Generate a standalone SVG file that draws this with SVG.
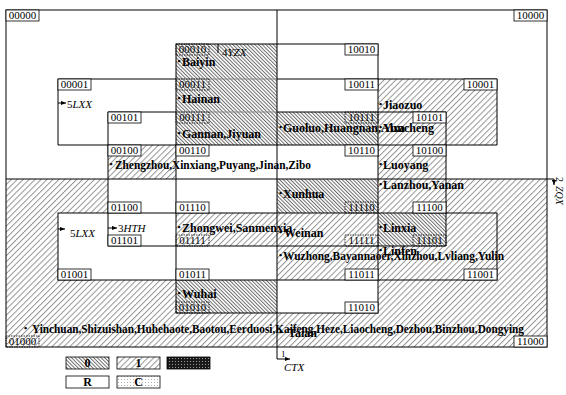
<svg xmlns="http://www.w3.org/2000/svg" width="566" height="395" viewBox="0 0 566 395">
<defs>
<pattern id="pd" width="2.6" height="2.6" patternUnits="userSpaceOnUse" patternTransform="rotate(-45)"><rect width="2.6" height="2.6" fill="#fff"/><line x1="0.5" y1="0" x2="0.5" y2="2.6" stroke="#666" stroke-width="0.95"/></pattern>
<pattern id="pl" width="4.2" height="4.2" patternUnits="userSpaceOnUse" patternTransform="rotate(45)"><rect width="4.2" height="4.2" fill="#fff"/><line x1="0.5" y1="0" x2="0.5" y2="4.2" stroke="#8a8a8a" stroke-width="0.9"/></pattern>
<pattern id="pk" width="3" height="3" patternUnits="userSpaceOnUse"><rect width="3" height="3" fill="#1a1a1a"/><rect x="1" y="1" width="1" height="1" fill="#9a9a9a"/></pattern>
<pattern id="pc" width="3" height="3" patternUnits="userSpaceOnUse"><rect width="3" height="3" fill="#fff"/><rect x="1" y="1" width="1" height="1" fill="#b0b0b0"/></pattern>
<marker id="ar" viewBox="0 0 6 6" refX="6" refY="3" markerWidth="5" markerHeight="5" orient="auto" markerUnits="userSpaceOnUse"><path d="M0,0.5 L6,3 L0,5.5 z" fill="#000"/></marker>
</defs>
<style>
.ln{fill:none;stroke:#000;stroke-width:1}
.gl{fill:none;stroke:#888;stroke-width:1}
.lb rect{fill:#fff;stroke:#000;stroke-width:0.8}
.lb.t rect{fill:none;stroke-dasharray:1.5 1}
.lb text{font-family:"Liberation Serif",serif;font-size:11px;text-anchor:middle}
.lb text.nm{font-family:"Liberation Serif",serif;font-size:12px;font-weight:bold;text-anchor:start}
.lb text.bu{font-family:"Liberation Serif",serif;font-size:9px;font-weight:bold;text-anchor:start}
.it{font-family:"Liberation Serif",serif;font-size:11px}
.i{font-style:italic}
.lg{font-family:"Liberation Serif",serif;font-size:12px;font-weight:bold;text-anchor:middle}
</style>
<rect width="566" height="395" fill="#fff"/>
<g id="fills" stroke="none">
<rect x="176" y="44" width="101" height="101" fill="url(#pd)"/>
<rect x="277" y="112" width="101" height="33" fill="url(#pd)"/>
<rect x="108" y="145" width="68" height="34" fill="url(#pl)"/>
<rect x="378" y="79" width="119" height="66" fill="url(#pl)"/>
<rect x="378" y="145" width="68" height="34" fill="url(#pl)"/>
<rect x="6" y="179" width="541" height="168" fill="url(#pl)"/>
<rect x="108" y="179" width="169" height="34" fill="#fff"/>
<rect x="58" y="213" width="118" height="67" fill="#fff"/>
<rect x="176" y="246" width="101" height="34" fill="#fff"/>
<rect x="277" y="280" width="101" height="33" fill="#fff"/>
<rect x="277" y="179" width="101" height="34" fill="url(#pd)"/>
<rect x="378" y="213" width="68" height="33" fill="url(#pd)"/>
<rect x="176" y="280" width="101" height="33" fill="url(#pd)"/>
</g>
<g id="regions">
<rect class="ln" x="6" y="10" width="541" height="337"/>
<rect class="ln" x="176" y="44" width="202" height="269"/>
<path class="ln" d="M176,79 H58 V145 H497 V79 H277"/>
<path class="gl" d="M176,79 H277"/>
<rect class="ln" x="58" y="213" width="439" height="67"/>
<path class="ln" d="M176,112 H108 V246 H446 V112 H277"/>
<path class="gl" d="M176,112 H277"/>
</g>
<g id="connectors">
<path class="ln" d="M277,10 V359 H290" marker-end="url(#ar)"/>
<path class="ln" d="M6,179 H554 V185" marker-end="url(#ar)"/>
<path class="ln" d="M218,44 V53"/>
<path class="ln" d="M58,103 H66" marker-end="url(#ar)"/>
<path class="ln" d="M58,229 H65" marker-end="url(#ar)"/>
<path class="ln" d="M108,228 H117" marker-end="url(#ar)"/>
</g>
<g id="axes">
<text class="it" x="222" y="56">4<tspan class="i">YZX</tspan></text>
<text class="it" x="67" y="107.5">5<tspan class="i">LXX</tspan></text>
<text class="it" x="70" y="237">5<tspan class="i">LXX</tspan></text>
<text class="it" x="118" y="232">3<tspan class="i">HTH</tspan></text>
<text class="it" x="281" y="357" style="font-size:9px">1</text>
<text class="it i" x="284" y="371">CTX</text>
<text class="it" transform="translate(556,177) rotate(90)" style="font-size:10px">2<tspan class="i" dx="4">ZQX</tspan></text>
</g>
<g id="n00000" class="lb"><rect x="6" y="10" width="33" height="11"/><text x="22.5" y="19">00000</text></g>
<g id="n00010" class="lb t"><rect x="176" y="44" width="33" height="11"/><text x="192.5" y="53">00010</text><text class="bu" x="177.5" y="64">•</text><text class="nm" x="182" y="66">Baiyin</text></g>
<g id="n00001" class="lb"><rect x="58" y="79" width="33" height="11"/><text x="74.5" y="88">00001</text></g>
<g id="n00011" class="lb t"><rect x="176" y="79" width="33" height="11"/><text x="192.5" y="88">00011</text><text class="bu" x="177.5" y="101">•</text><text class="nm" x="182" y="103">Hainan</text></g>
<g id="n00101" class="lb"><rect x="108" y="112" width="33" height="11"/><text x="124.5" y="121">00101</text></g>
<g id="n00111" class="lb t"><rect x="176" y="112" width="33" height="11"/><text x="192.5" y="121">00111</text><text class="bu" x="177.5" y="135.5">•</text><text class="nm" x="182" y="137.5">Gannan,Jiyuan</text></g>
<g id="n00100" class="lb"><rect x="108" y="145" width="33" height="11"/><text x="124.5" y="154">00100</text><text class="bu" x="109.5" y="166.5">•</text><text class="nm" x="115" y="168.5" textLength="196" lengthAdjust="spacingAndGlyphs">Zhengzhou,Xinxiang,Puyang,Jinan,Zibo</text></g>
<g id="n00110" class="lb"><rect x="176" y="145" width="33" height="11"/><text x="192.5" y="154">00110</text></g>
<g id="n10000" class="lb"><rect x="514" y="10" width="33" height="11"/><text x="530.5" y="19">10000</text></g>
<g id="n10010" class="lb"><rect x="345" y="44" width="33" height="11"/><text x="361.5" y="53">10010</text></g>
<g id="n10011" class="lb"><rect x="345" y="79" width="33" height="11"/><text x="361.5" y="88">10011</text></g>
<g id="n10001" class="lb"><rect x="464" y="79" width="33" height="11"/><text x="480.5" y="88">10001</text><text class="bu" x="379" y="107">•</text><text class="nm" x="383" y="109">Jiaozuo</text></g>
<g id="n10111" class="lb t"><rect x="345" y="112" width="33" height="11"/><text x="361.5" y="121">10111</text><text class="bu" x="279" y="130">•</text><text class="nm" x="283" y="132">Guoluo,Huangnan,Alxa</text></g>
<g id="n10101" class="lb"><rect x="413" y="112" width="33" height="11"/><text x="429.5" y="121">10101</text><text class="bu" x="379" y="130">•</text><text class="nm" x="383" y="132">Yuncheng</text></g>
<g id="n10110" class="lb"><rect x="345" y="145" width="33" height="11"/><text x="361.5" y="154">10110</text></g>
<g id="n10100" class="lb"><rect x="413" y="145" width="33" height="11"/><text x="429.5" y="154">10100</text><text class="bu" x="379" y="166.5">•</text><text class="nm" x="383" y="168.5">Luoyang</text></g>
<g id="n01100" class="lb"><rect x="108" y="202" width="33" height="11"/><text x="124.5" y="211">01100</text></g>
<g id="n01110" class="lb"><rect x="176" y="202" width="33" height="11"/><text x="192.5" y="211">01110</text></g>
<g id="n01101" class="lb"><rect x="108" y="235" width="33" height="11"/><text x="124.5" y="244">01101</text></g>
<g id="n01111" class="lb t"><rect x="176" y="235" width="33" height="11"/><text x="192.5" y="244">01111</text><text class="bu" x="177.5" y="230">•</text><text class="nm" x="182" y="232">Zhongwei,Sanmenxia</text></g>
<g id="n01001" class="lb"><rect x="58" y="269" width="33" height="11"/><text x="74.5" y="278">01001</text></g>
<g id="n01011" class="lb"><rect x="176" y="269" width="33" height="11"/><text x="192.5" y="278">01011</text></g>
<g id="n01010" class="lb t"><rect x="176" y="302" width="33" height="11"/><text x="192.5" y="311">01010</text><text class="bu" x="177.5" y="296">•</text><text class="nm" x="182" y="298">Wuhai</text></g>
<g id="n01000" class="lb t"><rect x="6" y="336" width="33" height="11"/><text x="22.5" y="345">01000</text><text class="bu" x="24" y="331">•</text><text class="nm" x="32" y="333" textLength="492" lengthAdjust="spacingAndGlyphs">Yinchuan,Shizuishan,Huhehaote,Baotou,Eerduosi,Kaifeng,Heze,Liaocheng,Dezhou,Binzhou,Dongying</text></g>
<g id="n11110" class="lb t"><rect x="345" y="202" width="33" height="11"/><text x="361.5" y="211">11110</text><text class="bu" x="279" y="196">•</text><text class="nm" x="283" y="198">Xunhua</text></g>
<g id="n11100" class="lb"><rect x="413" y="202" width="33" height="11"/><text x="429.5" y="211">11100</text><text class="bu" x="379" y="186.5">•</text><text class="nm" x="383" y="188.5">Lanzhou,Yanan</text></g>
<g id="n11111" class="lb t"><rect x="345" y="235" width="33" height="11"/><text x="361.5" y="244">11111</text><text class="bu" x="279" y="235">•</text><text class="nm" x="284" y="237">Weinan</text></g>
<g id="n11101" class="lb t"><rect x="413" y="235" width="33" height="11"/><text x="429.5" y="244">11101</text><text class="bu" x="379" y="230">•</text><text class="nm" x="383" y="232">Linxia</text></g>
<g id="n11011" class="lb"><rect x="345" y="269" width="33" height="11"/><text x="361.5" y="278">11011</text><text class="bu" x="279" y="258">•</text><text class="nm" x="283" y="260" textLength="221" lengthAdjust="spacingAndGlyphs">Wuzhong,Bayannaoer,Xinzhou,Lvliang,Yulin</text></g>
<g id="n11001" class="lb"><rect x="464" y="269" width="33" height="11"/><text x="480.5" y="278">11001</text><text class="bu" x="379" y="253">•</text><text class="nm" x="383" y="255">Linfen</text></g>
<g id="n11010" class="lb"><rect x="345" y="302" width="33" height="11"/><text x="361.5" y="311">11010</text></g>
<g id="n11000" class="lb"><rect x="514" y="336" width="33" height="11"/><text x="530.5" y="345">11000</text><text class="bu" x="279" y="335">•</text><text class="nm" x="288" y="337">Taian</text></g>
<g id="legend">
<rect x="66" y="357" width="43" height="12" fill="url(#pd)" stroke="#000" stroke-width="0.8"/><text class="lg" x="87.5" y="367">0</text>
<rect x="117" y="357" width="43" height="12" fill="url(#pl)" stroke="#000" stroke-width="0.8"/><text class="lg" x="138.5" y="367">1</text>
<rect x="167" y="357" width="43" height="12" fill="url(#pk)" stroke="#000" stroke-width="0.8"/>
<rect x="66" y="376" width="43" height="12" fill="#fff" stroke="#000" stroke-width="0.8"/><text class="lg" x="87.5" y="386">R</text>
<rect x="117" y="376" width="43" height="12" fill="url(#pc)" stroke="#000" stroke-width="0.8"/><text class="lg" x="138.5" y="386">C</text>
</g>
</svg>
